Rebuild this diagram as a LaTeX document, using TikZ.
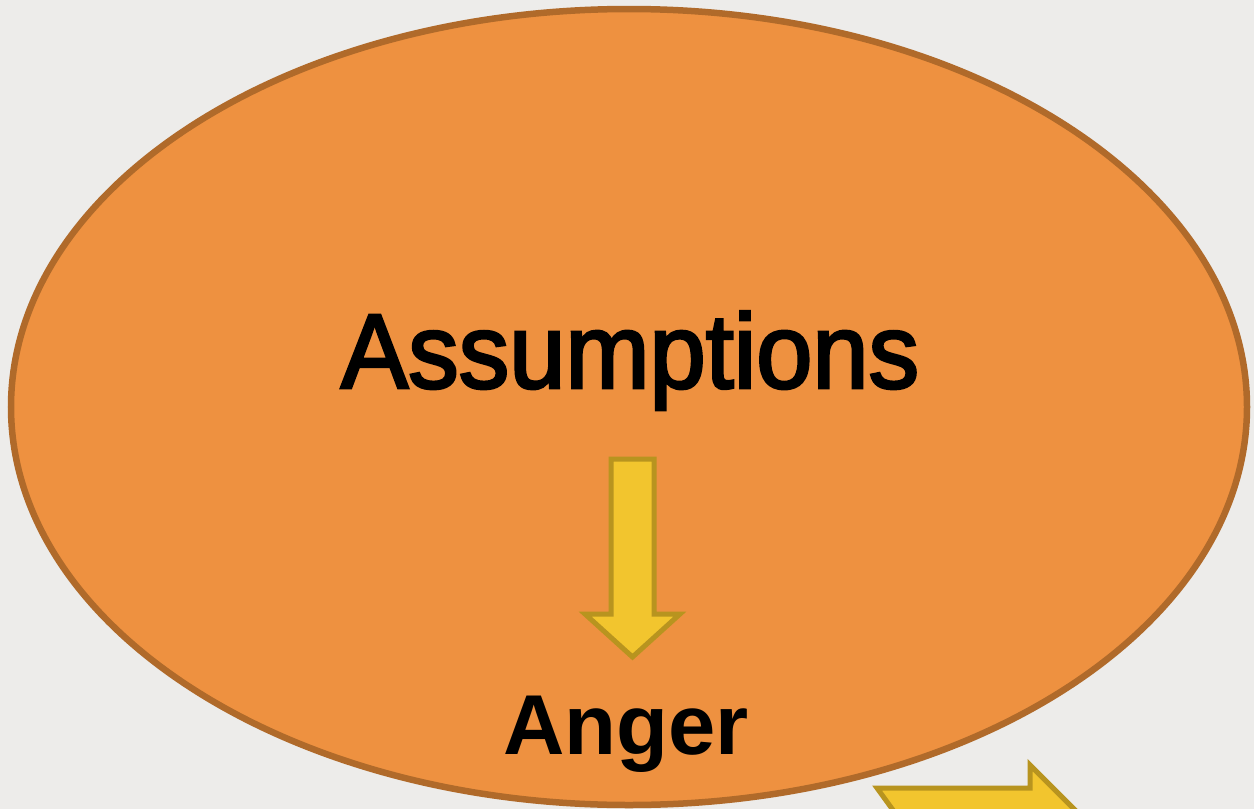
\documentclass[tikz,border=0pt]{standalone}
\usepackage{fontspec}
\setmainfont{Liberation Sans}
\newfontfamily\narrowsans[FakeStretch=0.953,FakeBold=2.6]{Liberation Sans}
\definecolor{bgc}{HTML}{EDECEA}
\definecolor{ellfill}{HTML}{EE9140}
\definecolor{elldraw}{HTML}{B06A2A}
\definecolor{arrfill}{HTML}{F2C52E}
\definecolor{arrdraw}{HTML}{B8941F}
\tikzset{
  blockarrow/.style={fill=arrfill, draw=arrdraw, line width=5pt, line join=miter, miter limit=10},
}
\begin{document}
\begin{tikzpicture}[x=1pt,y=-1pt]
\useasboundingbox (0,0) rectangle (1254,809);
\clip (0,0) rectangle (1254,809);
\fill[bgc] (0,0) rectangle (1254,809);
% ellipse
\draw[fill=ellfill, draw=elldraw, line width=6.5pt] (629,407) ellipse [x radius=618, y radius=398];
\node[anchor=base, inner sep=0pt] (assump) at (630,388) {\narrowsans\fontsize{106}{120}\selectfont Assumptions};
\node[anchor=base, inner sep=0pt] (anger) at (626,754) {\fontsize{85}{100}\selectfont\bfseries Anger};
% down arrow
\draw[blockarrow] (611,459) -- (654,459) -- (654,614) -- (680,614) -- (632.5,657) -- (585,614) -- (611,614) -- cycle;
% partial arrow bottom right
\draw[blockarrow] (877,788) -- (1030,788) -- (1030,765) -- (1140,875) -- (940,875) -- cycle;
\end{tikzpicture}
\end{document}
